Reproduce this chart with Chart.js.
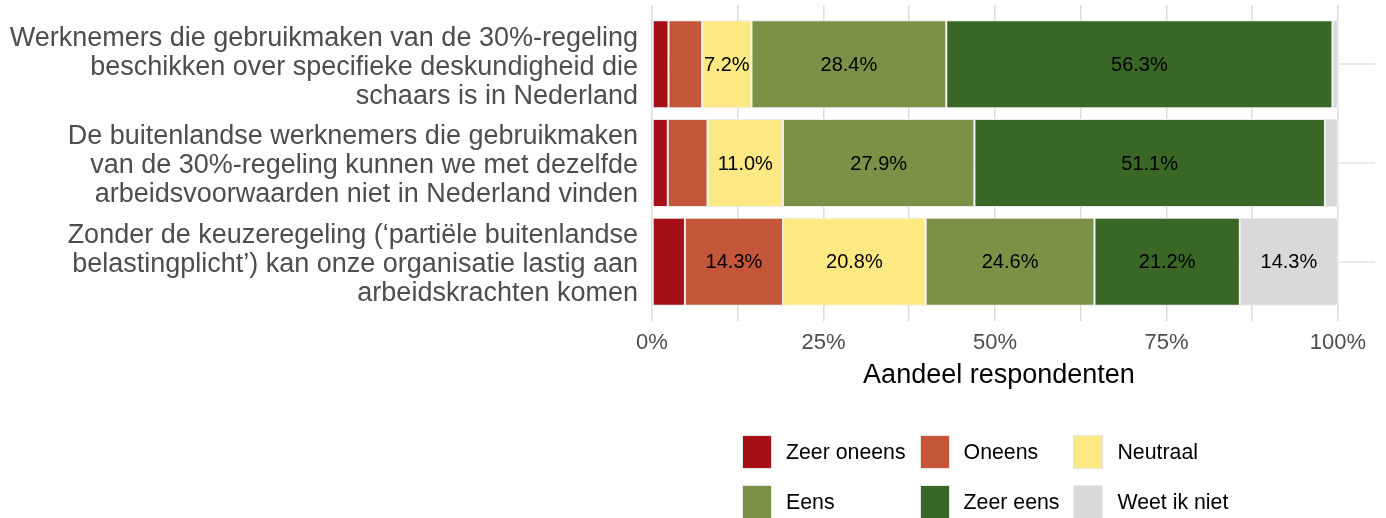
<!DOCTYPE html>
<html>
<head>
<meta charset="utf-8">
<script src="https://cdn.jsdelivr.net/npm/chart.js@4.4.1/dist/chart.umd.min.js"></script>
<style>
	body { margin: 0; background: #fff; }
	#wrap { position: relative; width: 1386px; height: 518px; }
	#legend {
		position: absolute; left: 742px; top: 435px;
		display: grid; grid-template-columns: auto auto auto;
		column-gap: 14px; row-gap: 16px;
		font-family: "Liberation Sans", Arial, sans-serif; font-size: 21.3px; color: #000;
	}
	.item { display: flex; align-items: center; height: 34px; }
	.box { width: 30px; height: 34px; box-sizing: border-box; border: 1px solid #e6e6e6; margin-right: 14px; }
</style>
</head>
<body>
<div id="wrap">
	<canvas id="chart" width="1386" height="518"></canvas>
	<div id="legend"></div>
</div>
<script>
// --- Data ---
const categories = [
	["Werknemers die gebruikmaken van de 30%-regeling", "beschikken over specifieke deskundigheid die", "schaars is in Nederland"],
	["De buitenlandse werknemers die gebruikmaken", "van de 30%-regeling kunnen we met dezelfde", "arbeidsvoorwaarden niet in Nederland vinden"],
	["Zonder de keuzeregeling (\u2018parti\u00eble buitenlandse", "belastingplicht\u2019) kan onze organisatie lastig aan", "arbeidskrachten komen"],
];
const seriesNames = ["Zeer oneens", "Oneens", "Neutraal", "Eens", "Zeer eens", "Weet ik niet"];
const zeerOneens = [2.4, 2.3, 4.8];
const oneens = [4.9, 5.8, 14.3];
const neutraal = [7.2, 11.0, 20.8];
const eens = [28.4, 27.9, 24.6];
const zeerEens = [56.3, 51.1, 21.2];
const weetNiet = [0.8, 1.9, 14.3];
const xTicks = [0, 12.5, 25, 37.5, 50, 62.5, 75, 87.5, 100];
const xTitle = "Aandeel respondenten";

const colors = ["#a50f15", "#c4573a", "#fde984", "#7b9145", "#3a6626", "#d9d9d9"];
const FONT = "'Liberation Sans', Arial, sans-serif";
const LABEL_MIN = 7;

const seriesValues = [zeerOneens, oneens, neutraal, eens, zeerEens, weetNiet];

// labels inside the bar segments
const segmentLabels = {
	id: "segmentLabels",
	afterDatasetsDraw(chart) {
		const ctx = chart.ctx;
		ctx.save();
		ctx.font = "20px " + FONT;
		ctx.fillStyle = "#000";
		ctx.textAlign = "center";
		ctx.textBaseline = "middle";
		chart.data.datasets.forEach((ds, i) => {
			chart.getDatasetMeta(i).data.forEach((bar, j) => {
				const v = ds.data[j].x;
				if (v < LABEL_MIN) return;
				ctx.fillText(v.toFixed(1) + "%", (bar.x + bar.base) / 2, bar.y + 1);
			});
		});
		ctx.restore();
	},
};

// axis title centred on the 0-100% panel
const axisTitle = {
	id: "axisTitle",
	afterDraw(chart) {
		const ctx = chart.ctx;
		const x = chart.scales.x;
		ctx.save();
		ctx.font = "27px " + FONT;
		ctx.fillStyle = "#000";
		ctx.textAlign = "center";
		ctx.textBaseline = "middle";
		ctx.fillText(xTitle, x.getPixelForValue(50) + 4, 376);
		ctx.restore();
	},
};

const chart = new Chart(document.getElementById("chart"), {
	type: "bar",
	data: {
		datasets: seriesNames.map((name, i) => ({
			label: name,
			data: seriesValues[i].map((v, j) => ({ x: v, y: j })),
			backgroundColor: colors[i],
			borderColor: "#ececec",
			borderWidth: 1,
			borderSkipped: false,
			barPercentage: 0.89,
			categoryPercentage: 1,
		})),
	},
	options: {
		indexAxis: "y",
		responsive: false,
		animation: false,
		layout: { padding: { top: 5, right: 11, bottom: 127, left: 0 } },
		scales: {
			x: {
				type: "linear",
				stacked: true,
				min: 0,
				max: 105.4,
				afterBuildTicks: (s) => { s.ticks = xTicks.map((v) => ({ value: v })); },
				afterFit: (s) => {
					s.height = 70;
					s.paddingLeft = 0;
					s.paddingRight = 0;
				},
				border: { display: false },
				grid: { color: "#dcdcdc", lineWidth: 1.5, drawTicks: false },
				ticks: {
					padding: 9,
					color: "#4d4d4d",
					font: { family: FONT, size: 22 },
					maxRotation: 0,
					autoSkip: false,
					callback: (v) => (v % 25 === 0 ? v + "%" : ""),
				},
			},
			y: {
				type: "linear",
				stacked: true,
				reverse: true,
				offset: false,
				min: -0.6,
				max: 2.6,
				afterBuildTicks: (s) => { s.ticks = categories.map((c, i) => ({ value: i })); },
				afterFit: (s) => {
					s.width = 652;
					s.paddingTop = 0;
					s.paddingBottom = 0;
				},
				border: { display: false },
				grid: { color: "#ebebeb", lineWidth: 2, drawTicks: false, offset: false },
				ticks: {
					padding: 14,
					labelOffset: 3,
					color: "#4d4d4d",
					font: { family: FONT, size: 27, lineHeight: 1.075 },
					autoSkip: false,
					callback: (v) => categories[v],
				},
			},
		},
		plugins: {
			legend: { display: false },
			tooltip: { enabled: false },
		},
	},
	plugins: [segmentLabels, axisTitle],
});

// --- Legend (3 columns, 2 rows) ---
const legend = document.getElementById("legend");
chart.data.datasets.forEach((ds) => {
	const item = document.createElement("div");
	item.className = "item";
	const box = document.createElement("span");
	box.className = "box";
	box.style.background = ds.backgroundColor;
	item.appendChild(box);
	item.appendChild(document.createTextNode(ds.label));
	legend.appendChild(item);
});
</script>
</body>
</html>
